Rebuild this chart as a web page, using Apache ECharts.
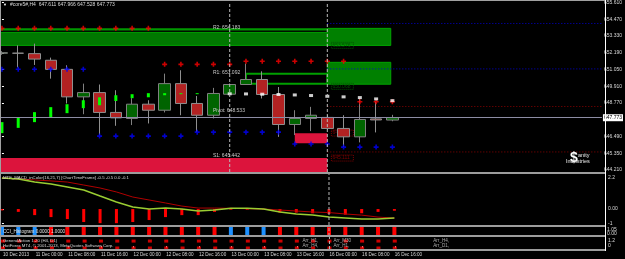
<!DOCTYPE html>
<html>
<head>
<meta charset="utf-8">
<script src="https://cdn.jsdelivr.net/npm/echarts@6/dist/echarts.min.js"></script>
<style>
html,body{margin:0;padding:0;background:#000;}
#chart{width:625px;height:259px;}
</style>
</head>
<body>
<div id="chart"></div>
<script>
// H4 bars, 10 Dec 16:00 .. 16 Dec 16:00
const barTimes = ['10 Dec 16:00','10 Dec 20:00','11 Dec 00:00','11 Dec 04:00','11 Dec 08:00','11 Dec 12:00',
  '11 Dec 16:00','11 Dec 20:00','12 Dec 00:00','12 Dec 04:00','12 Dec 08:00','12 Dec 12:00','12 Dec 16:00',
  '12 Dec 20:00','13 Dec 00:00','13 Dec 04:00','13 Dec 08:00','13 Dec 12:00','13 Dec 16:00','13 Dec 20:00',
  '16 Dec 00:00','16 Dec 04:00','16 Dec 08:00','16 Dec 12:00','16 Dec 16:00'];
const timeLabelBars = [0,2,4,6,8,10,12,14,16,18,20,22,24];
const timeLabels = ['10 Dec 2013','11 Dec 00:00','11 Dec 08:00','11 Dec 16:00','12 Dec 00:00','12 Dec 08:00',
  '12 Dec 16:00','13 Dec 00:00','13 Dec 08:00','13 Dec 16:00','16 Dec 00:00','16 Dec 08:00','16 Dec 16:00'];

const opens  = [652.16,652.16,652.13,651.68,651.06,649.19,649.48,648.13,647.72,648.69,648.28,650.09,648.74,
  647.94,649.37,650.03,650.37,649.35,647.31,647.72,647.79,647.04,646.47,647.69,647.611];
const highs  = [652.30,652.69,652.81,651.86,651.34,650.09,650.03,649.64,649.10,648.96,650.77,651.00,649.25,
  649.80,650.10,651.45,650.93,649.86,648.28,648.51,647.95,647.94,649.08,648.85,647.966];
const lows   = [652.05,651.20,651.36,650.43,648.74,648.01,646.59,647.22,647.27,647.38,648.13,647.94,646.81,
  647.72,649.30,650.00,649.08,646.47,646.59,646.86,646.95,645.79,646.09,646.77,647.528];
const closes = [652.19,652.16,651.76,651.06,649.19,649.48,648.13,647.76,648.69,648.28,650.09,648.74,647.94,
  649.42,650.03,650.37,649.35,647.31,647.72,647.94,647.04,646.47,647.65,647.62,647.773];

// lime trend bars (first 13 bars)
const pulseLow  = [646.72,647.08,647.47,647.81,648.08,648.42,648.62,648.91,649.10,649.16,649.30,649.37,649.39];
const pulseHigh = [647.47,647.76,648.15,648.49,648.69,648.96,649.16,649.30,649.37,649.44,649.44,649.44,649.44];

const resMarks = [653.85,653.85,653.85,653.85,653.85,653.85,653.85,653.85,653.85,653.85,
  651.40,651.40,651.40,651.40,651.40,651.61,651.61,651.61,651.61,651.61,651.61,651.61,648.86,648.86,648.86];
const supMarks = [651.07,651.07,651.07,651.07,651.07,651.07,646.52,646.52,646.52,646.52,646.52,646.52,
  646.79,646.79,646.79,646.79,646.79,646.79,645.98,645.98,645.98,645.77,645.77,645.77,645.77];
const dotBars = [14,15,16,17,18,19,20,21,22,23,24];
const dotVals = [649.40,649.39,649.37,649.35,649.32,649.28,649.23,649.19,649.14,649.05,648.93];

const pivotNames  = ['R2','R1','Pivot','S1'];
const pivotValues = [654.183,651.092,648.533,645.442];
const pivotLabelBar = 12.97;

const zoneFrom = [-0.3,-0.3,20,20,15,-0.3,18];
const zoneTo   = [20,20,23.9,23.9,20,20,20];
const zoneLow  = [653.71,652.69,652.69,650.05,650.08,644.0,646.04];
const zoneHigh = [653.85,653.575,653.85,651.54,650.76,645.03,646.72];
const zoneKind = ['line','band','box','box','frame','sell','sell'];

const tagBar   = [20.25,20.25,20.25,20.25];
const tagPrice = [652.90,650.11,646.93,645.23];
const tagText  = ['653.576','650.068','646.672','645.111'];
const tagKind  = ['g','g','r','r'];

const separatorBars = [14,20];
const priceTicks = [655.61,654.47,653.33,652.19,651.05,649.91,648.77,646.49,645.35,644.21];

const macdHist   = [-0.1,-0.2,-0.43,-0.57,-0.71,-0.92,-1.0,-1.0,-0.92,-0.78,-0.57,-0.43,-0.43,-0.2,-0.05,
  -0.05,-0.05,-0.25,-0.25,-0.3,-0.35,-0.4,-0.3,-0.2,-0.12];
const macdMain   = [2.2,2.13,1.91,1.77,1.56,1.35,0.92,0.50,0.14,0,0.07,0,-0.14,-0.07,0.05,0.05,0,-0.21,
  -0.35,-0.43,-0.57,-0.64,-0.71,-0.71,-0.64];
const macdSignal = [2.2,2.13,2.06,1.99,1.91,1.70,1.49,1.21,0.85,0.64,0.43,0.21,0.07,0.07,0.05,0.02,0,-0.07,
  -0.14,-0.21,-0.25,-0.35,-0.43,-0.57,-0.64];
const macdTicks = [2.2,0,-1];
const macdTickText = ['2.2','0.00','-1'];

const cciState = [1,1,1,-1,-1,-1,-1,-1,-1,-1,-1,-1,-1,-1,1,1,1,-1,-1,-1,-1,-1,-1,-1,-1];
const gaRows = [1.2,-0.46];
const gaTicks = [1.2,0];
const arrBar  = [18.35,18.35,20.25,20.25,26.36,26.36];
const arrVal  = [1.2,0,1.2,0,1.2,0];
const arrText = ['Arr_H1,','Arr_H4,','Arr_M30','Arr_H1,','Arr_H4,','Arr_D1,'];

const F = '"Liberation Sans"';
const last = barTimes.length - 1;
const idx = barTimes.map((t, i) => i);

const zoneStyle = {
  line:  {fill:'#009800'},
  band:  {fill:'#007800', stroke:'#00a000', lineWidth:1},
  box:   {fill:'#008000', stroke:'#00a400', lineWidth:1},
  frame: {fill:'none', stroke:'#00a000', lineWidth:2},
  sell:  {fill:'#dc143c'}
};

// y ranges of the four panes
const paneMin = [644.077, -1.13, 0, -0.7];
const paneMax = [655.61, 2.48, 1, 2.18];

function xAx(g, extra){
  return Object.assign({type:'value', gridIndex:g, min:-0.12, max:36.88, show:false, splitLine:{show:false}}, extra||{});
}
function yAx(g, extra){
  return Object.assign({type:'value', gridIndex:g, min:paneMin[g], max:paneMax[g], position:'right', splitLine:{show:false},
    axisLine:{show:false}, axisTick:{show:false}, axisLabel:{show:false}}, extra||{});
}
// dashed period separators, one vertical line per bar
const vlines = (g, bars) => bars.map(b => ({type:'line', xAxisIndex:g, yAxisIndex:g, silent:true, z:7,
  symbol:'none', data:[[b, paneMin[g]], [b, paneMax[g]]],
  lineStyle:{color:'#b8b8b8', type:[3,2], width:1}}));

const chart = echarts.init(document.getElementById('chart'));
const option = {
  backgroundColor:'#000',
  animation:false,
  grid:[
    {left:0, top:2, width:605, height:170},
    {left:0, top:174, width:605, height:51},
    {left:0, top:227, width:605, height:9},
    {left:0, top:237, width:605, height:12}
  ],
  xAxis:[
    xAx(0), xAx(1), xAx(2),
    xAx(3, {show:true, axisLine:{show:false},
      axisTick:{show:true, customValues:timeLabelBars, length:2, lineStyle:{color:'#ddd'}},
      axisLabel:{customValues:timeLabelBars, formatter:(v) => timeLabels[timeLabelBars.indexOf(v)],
        align:'left', margin:3, fontSize:4.6, fontFamily:F, color:'#d8d8d8'}})
  ],
  yAxis:[
    yAx(0, {
      axisTick:{show:true, customValues:priceTicks, length:2, lineStyle:{color:'#fff'}},
      axisLabel:{show:true, customValues:priceTicks, formatter:(v) => v.toFixed(3), margin:2,
        fontSize:5, fontFamily:F, color:'#d8d8d8'}}),
    yAx(1, {
      axisTick:{show:true, customValues:macdTicks, length:2, lineStyle:{color:'#fff'}},
      axisLabel:{show:true, customValues:macdTicks, formatter:(v) => macdTickText[macdTicks.indexOf(v)],
        margin:3, fontSize:5, fontFamily:F, color:'#d8d8d8'}}),
    yAx(2),
    yAx(3, {
      axisLabel:{show:true, customValues:gaTicks, formatter:(v) => String(v), margin:3,
        fontSize:5, fontFamily:F, color:'#d8d8d8'}})
  ],
  series:[
    {
      type:'custom', xAxisIndex:0, yAxisIndex:0, z:1, silent:true, clip:true,
      data: zoneFrom.map((f, i) => [f, zoneTo[i], zoneLow[i], zoneHigh[i]]),
      renderItem:(params, api) => {
        const a = api.coord([api.value(0), api.value(3)]);
        const b = api.coord([api.value(1), api.value(2)]);
        return {type:'rect', shape:{x:a[0], y:a[1], width:b[0]-a[0], height:b[1]-a[1]},
          style:zoneStyle[zoneKind[params.dataIndex]]};
      }
    },
    {
      type:'custom', xAxisIndex:0, yAxisIndex:0, z:2, silent:true,
      data: tagBar.map((b, i) => [b, tagPrice[i]]),
      renderItem:(params, api) => {
        const p = api.coord([api.value(0), api.value(1)]);
        const c = tagKind[params.dataIndex] === 'g' ? '#005400' : '#7c0000';
        return {type:'group', children:[
          {type:'rect', shape:{x:p[0], y:p[1], width:22, height:6}, style:{fill:'none', stroke:c, lineWidth:1, lineDash:[1,1]}},
          {type:'text', style:{text:tagText[params.dataIndex], x:p[0]+1, y:p[1]+0.5, fill:c, font:'5px ' + F, verticalAlign:'top'}}
        ]};
      }
    },
    ...pivotValues.map((v, i) => ({
      type:'line', xAxisIndex:0, yAxisIndex:0, z:2, silent:true, symbol:'none',
      data:[[separatorBars[1], v], [36.88, v]],
      lineStyle:{color: i < 2 ? '#0000d0' : '#8b0000', type:[1,2], width:1}
    })),
    {
      type:'candlestick', xAxisIndex:0, yAxisIndex:0, z:3, barWidth:12,
      data: idx.map(i => [i, opens[i], closes[i], lows[i], highs[i]]),
      encode:{x:0, y:[1,2,3,4]},
      itemStyle:{color:'#006400', color0:'#b22222', borderColor:'#808080', borderColor0:'#909090',
        borderColorDoji:'#909090', borderWidth:1},
      markLine:{silent:true, symbol:'none',
        data:[
          {yAxis:closes[last], lineStyle:{color:'#8c8ca4', type:'solid', width:1},
            label:{show:true, position:'end', distance:1, formatter:() => closes[last].toFixed(3),
              backgroundColor:'#fff', color:'#000', fontSize:5, fontFamily:F, padding:[1,1]}}
        ]}
    },
    ...vlines(0, separatorBars),
    {
      type:'custom', xAxisIndex:0, yAxisIndex:0, z:4, silent:true,
      data: pulseLow.map((lo, i) => [i, lo, pulseHigh[i]]),
      renderItem:(params, api) => {
        const t = api.coord([api.value(0), api.value(2)]);
        const b = api.coord([api.value(0), api.value(1)]);
        return {type:'rect', shape:{x:t[0]-1.5, y:t[1], width:3, height:Math.max(1, b[1]-t[1])}, style:{fill:'#00ff00'}};
      }
    },
    {
      type:'scatter', xAxisIndex:0, yAxisIndex:0, z:5, silent:true,
      symbol:'path://M1.7 0h1.6v1.7h1.7v1.6h-1.7v1.7h-1.6v-1.7h-1.7v-1.6h1.7z', symbolSize:5,
      itemStyle:{color:'#ff0000'}, data: idx.map(i => [i, resMarks[i]])
    },
    {
      type:'scatter', xAxisIndex:0, yAxisIndex:0, z:5, silent:true,
      symbol:'path://M1.7 0h1.6v1.7h1.7v1.6h-1.7v1.7h-1.6v-1.7h-1.7v-1.6h1.7z', symbolSize:5,
      itemStyle:{color:'#0000ff'}, data: idx.map(i => [i, supMarks[i]])
    },
    {
      type:'scatter', xAxisIndex:0, yAxisIndex:0, z:5, silent:true, symbol:'rect', symbolSize:[4,3],
      itemStyle:{color:'#ffffff'}, data: dotBars.map((b, i) => [b, dotVals[i]])
    },
    {
      type:'custom', xAxisIndex:0, yAxisIndex:0, z:6, silent:true,
      data: pivotValues.map(v => [pivotLabelBar, v]),
      renderItem:(params, api) => {
        const p = api.coord([api.value(0), api.value(1)]);
        const i = params.dataIndex;
        return {type:'text', style:{text:pivotNames[i] + ': ' + pivotValues[i].toFixed(3), x:p[0], y:p[1]+1.5,
          fill:'#c8c8c8', font:'5px ' + F, verticalAlign:'top'}};
      }
    },
    // MACD pane
    {
      type:'bar', xAxisIndex:1, yAxisIndex:1, barWidth:3, silent:true, z:2,
      itemStyle:{color:'#ff0000'}, data: idx.map(i => [i, macdHist[i]])
    },
    {
      type:'line', xAxisIndex:1, yAxisIndex:1, symbol:'none', silent:true, z:3,
      lineStyle:{color:'#b00000', width:1}, data: idx.map(i => [i, macdSignal[i]])
    },
    {
      type:'line', xAxisIndex:1, yAxisIndex:1, symbol:'none', silent:true, z:4,
      lineStyle:{color:'#9acd32', width:1.5}, data: idx.map(i => [i, macdMain[i]])
    },
    ...vlines(1, [separatorBars[1]]),
    // CCI histogram pane
    {
      type:'bar', xAxisIndex:2, yAxisIndex:2, barWidth:4, silent:true, z:2,
      data: idx.map(i => ({value:[i, 1], itemStyle:{color: cciState[i] > 0 ? '#1e90ff' : '#ff0000'}}))
    },
    ...vlines(2, [separatorBars[1]]),
    // GeneralAction pane
    {
      type:'scatter', xAxisIndex:3, yAxisIndex:3, symbol:'rect', symbolSize:[4,3], silent:true, z:2,
      itemStyle:{color:'#ff0000'},
      data: idx.flatMap(i => gaRows.map(r => [i, r]))
    },
    {
      type:'scatter', xAxisIndex:3, yAxisIndex:3, symbolSize:0, silent:true, z:4,
      data: arrBar.map((b, i) => ({value:[b, arrVal[i]], name:arrText[i]})),
      label:{show:true, position:'right', distance:0, formatter:(p) => p.name,
        fontSize:4.6, fontFamily:F, color:'#d0d0d0'}
    },
    ...vlines(3, [separatorBars[1]])
  ],
  graphic:[
    {type:'rect', shape:{x:0, y:0, width:605, height:1}, style:{fill:'#a0a0a0'}, z:100},
    {type:'rect', shape:{x:0, y:0, width:1, height:251}, style:{fill:'#a0a0a0'}, z:100},
    {type:'rect', shape:{x:0, y:172, width:605, height:2}, style:{fill:'#9c9c9c'}, z:100},
    {type:'rect', shape:{x:0, y:225, width:605, height:2}, style:{fill:'#9c9c9c'}, z:100},
    {type:'rect', shape:{x:0, y:235, width:605, height:2}, style:{fill:'#9c9c9c'}, z:100},
    {type:'rect', shape:{x:0, y:249, width:605, height:2}, style:{fill:'#9c9c9c'}, z:100},
    {type:'rect', shape:{x:605, y:0, width:1, height:251}, style:{fill:'#ffffff'}, z:100},
    {type:'text', x:3, y:5, z:100, style:{text:'▼', fill:'#fff', font:'4px ' + F, verticalAlign:'middle'}},
    {type:'text', x:10, y:5, z:100, style:{text:'#core5#,H4  ' + [opens[last], highs[last], lows[last], closes[last]].map(v => v.toFixed(3)).join(' '),
      fill:'#d8d8d8', font:'5px ' + F, verticalAlign:'middle'}},
    {type:'text', x:3, y:178, z:100, style:{text:'MTF_MACD_inColor(16,21,7) [ChartTimeFrame] -0.5 -0.5 0.0 -0.1',
      fill:'#d8d8d8', font:'4.3px ' + F, verticalAlign:'middle'}},
    {type:'text', x:3, y:231.5, z:100, style:{text:'CCI_Histogram 0.0000 1.0000',
      fill:'#e0e0e0', font:'4.6px ' + F, verticalAlign:'middle'}},
    {type:'text', x:3, y:241, z:100, style:{text:'GeneralAction 1.20 (H4, D1)',
      fill:'#d8d8d8', font:'4.3px ' + F, verticalAlign:'middle'}},
    {type:'text', x:3, y:245.5, z:100, style:{text:'HotForex MT4, © 2001-2013, MetaQuotes Software Corp.',
      fill:'#d8d8d8', font:'4.3px ' + F, verticalAlign:'middle'}},
    {type:'text', x:607, y:229.5, z:100, style:{text:'1.05', fill:'#d8d8d8', font:'5px ' + F, verticalAlign:'middle'}},
    {type:'text', x:607, y:233.5, z:100, style:{text:'0.00', fill:'#d8d8d8', font:'5px ' + F, verticalAlign:'middle'}},
    {type:'text', x:570, y:158, z:100, style:{text:'$', fill:'#fff', font:'bold 14px ' + F, verticalAlign:'middle'}},
    {type:'text', x:578, y:155, z:100, style:{text:'anity', fill:'#e8e8e8', font:'5.5px ' + F, verticalAlign:'middle'}},
    {type:'text', x:566, y:161.5, z:100, style:{text:'Industries', fill:'#e8e8e8', font:'5.5px ' + F, verticalAlign:'middle'}}
  ]
};
chart.setOption(option);
</script>
</body>
</html>
